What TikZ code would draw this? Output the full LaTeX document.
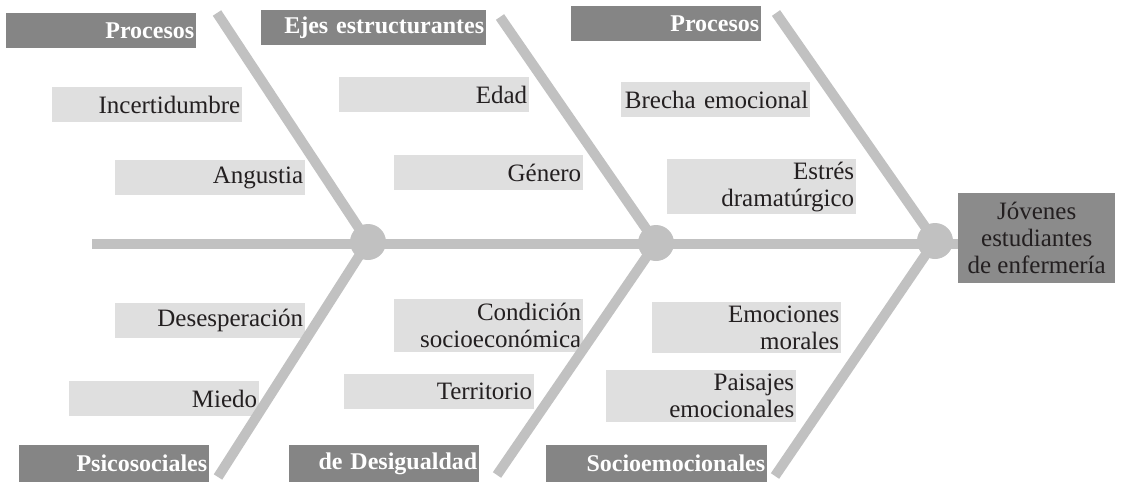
\documentclass[tikz,border=0pt]{standalone}
\usepackage{fontspec}
\setmainfont{Liberation Serif}
\definecolor{grisosc}{RGB}{133,133,133}
\definecolor{grisclaro}{RGB}{223,223,223}
\definecolor{grisefecto}{RGB}{139,139,139}
\definecolor{hueso}{RGB}{193,193,193}
\definecolor{tinta}{RGB}{35,31,32}

\begin{document}
\begin{tikzpicture}[x=1pt, y=-1pt]
	\tikzset{titulo/.style={fill=grisosc, text=white, font=\fontsize{24}{27}\selectfont\bfseries, anchor=north west, align=right, inner xsep=2pt, inner ysep=0pt, minimum height=35pt},
		causa/.style={fill=grisclaro, text=tinta, font=\fontsize{25}{27}\selectfont, anchor=north west, align=right, inner xsep=2pt, inner ysep=0pt, minimum height=35pt},
		efecto/.style={fill=grisefecto, text=tinta, font=\fontsize{25}{27}\selectfont, anchor=north west, align=center, inner sep=0pt, minimum width=157pt, minimum height=90pt},
		espina/.style={draw=hueso, line width=10pt},
		nudo/.style={circle, fill=hueso, inner sep=0pt, minimum size=36pt}};

	\useasboundingbox (0,0) rectangle (1121,482);

	% cajas de arriba
	\node[titulo, text width=186pt] (proc1) at (  6,  13) {Procesos};
	\node[titulo, text width=221pt] (ejes)  at (261,  10) {Ejes estructurantes};
	\node[titulo, text width=186pt] (proc3) at (571,   6) {Procesos};

	\node[causa, text width=186pt] (incert) at ( 52,  87) {Incertidumbre};
	\node[causa, text width=186pt] (angus)  at (115, 160) {Angustia};
	\node[causa, text width=186pt] (edad)   at (339,  77) {Edad};
	\node[causa, text width=185pt] (genero) at (394, 155) {Género};
	\node[causa, text width=185pt] (brecha) at (621,  82) {Brecha emocional};
	\node[causa, text width=185pt, minimum height=55pt] (estres) at (667, 159) {Estrés\\dramatúrgico};

	% cajas de abajo
	\node[causa, text width=186pt] (desesp) at (115, 303) {Desesperación};
	\node[causa, text width=186pt] (miedo)  at ( 69, 381) {Miedo};
	\node[causa, text width=185pt, minimum height=53pt] (condic) at (394, 299) {Condición\\socioeconómica};
	\node[causa, text width=186pt] (territ) at (344, 374) {Territorio};
	\node[causa, text width=185pt, minimum height=51pt] (emoc)   at (652, 302) {Emociones\\morales};
	\node[causa, text width=186pt, minimum height=52pt] (paisaj) at (606, 370) {Paisajes\\emocionales};

	\node[titulo, text width=186pt, minimum height=37pt] (psico) at ( 19, 445) {Psicosociales};
	\node[titulo, text width=186pt, minimum height=37pt] (desig) at (289, 445) {de Desigualdad};
	\node[titulo, text width=217pt, minimum height=37pt] (socio) at (546, 445) {Socioemocionales};

	\node[efecto] (jovenes) at (958, 193) {Jóvenes\\estudiantes\\de enfermería};

	% espina de pescado
	\node[nudo] (n1) at (368, 242) {};
	\node[nudo] (n2) at (656, 243) {};
	\node[nudo] (n3) at (935, 241) {};

	\coordinate (cola) at ( 92, 244);
	\coordinate (a1) at (217,  13);
	\coordinate (a2) at (500,  17);
	\coordinate (a3) at (776,  13);
	\coordinate (b1) at (218, 477);
	\coordinate (b2) at (497, 475);
	\coordinate (b3) at (775, 476);

	\draw[espina] (cola) -- (cola -| jovenes.west);
	\foreach \i in {1,2,3} {
		\draw[espina] (a\i) -- (n\i.center);
		\draw[espina] (n\i.center) -- (b\i);
	}

\end{tikzpicture}
\end{document}
